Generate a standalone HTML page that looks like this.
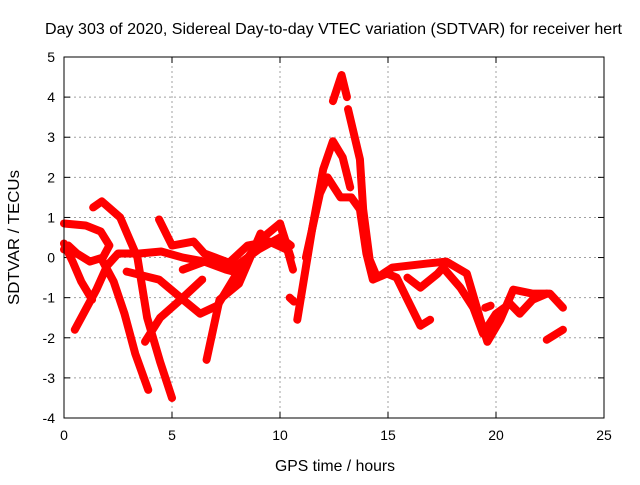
<!DOCTYPE html>
<html><head><meta charset="utf-8"><style>
body{margin:0;background:#fff;}
svg text{font-family:"Liberation Sans",sans-serif;font-size:14px;fill:#000;}
</style></head><body>
<svg id="chart" width="640" height="480" xmlns="http://www.w3.org/2000/svg">
<rect width="640" height="480" fill="#fff"/>
<text x="45" y="34" textLength="577" lengthAdjust="spacingAndGlyphs" style="font-size:16px">Day 303 of 2020, Sidereal Day-to-day VTEC variation (SDTVAR) for receiver hert</text>
<text x="275" y="471" textLength="120" lengthAdjust="spacingAndGlyphs" style="font-size:16px">GPS time / hours</text>
<text transform="translate(19,305) rotate(-90)" textLength="135" lengthAdjust="spacingAndGlyphs" style="font-size:16px">SDTVAR / TECUs</text>
<g id="grid"></g>
<g id="ticks"></g>
<g id="series"></g>
<rect x="64" y="57" width="540" height="361" fill="none" stroke="#000" stroke-width="1"/>
</svg>
<script>
const xTicks=[0,5,10,15,20,25];
const yTicks=[-4,-3,-2,-1,0,1,2,3,4,5];
const track1=[[0,0.85],[1,0.8],[1.7,0.65],[2.1,0.3],[1.8,0],[1.2,-0.1],[0.6,0.1],[0.2,0.3],[0,0.2]];
const track2=[[0.5,-1.8],[1.0,-1.3],[1.5,-0.8],[2.0,-0.2],[2.5,0.1],[3.5,0.1],[4.5,0.15],[5.5,0],[6.5,-0.1],[7.5,-0.3],[8.2,-0.4]];
const track3=[[0,0.35],[0.4,-0.1],[0.8,-0.6],[1.3,-1.05]];
const track4=[[1.35,1.25],[1.75,1.4],[2.6,1.0],[3.4,0.0],[3.85,-1.5],[4.45,-2.6],[5.0,-3.5]];
const track5=[[1.8,-0.1],[2.3,-0.6],[2.8,-1.4],[3.3,-2.4],[3.9,-3.3]];
const track6=[[3.75,-2.1],[4.45,-1.5],[5.4,-1.05],[6.4,-0.55]];
const track7=[[6.6,-2.55],[7.2,-1.05],[8.1,-0.65],[9.1,0.6]];
const track8=[[2.9,-0.35],[4.4,-0.55],[5.4,-1.0],[6.3,-1.4],[7.1,-1.2],[8.0,-0.4],[9.1,0.45],[10.0,0.85],[10.5,0.0]];
const track9=[[4.4,0.95],[5.0,0.3],[5.5,0.35],[6.0,0.4],[6.5,0.1],[7.0,0.0],[8.0,-0.2],[9.0,0.2],[10.0,0.5],[10.5,0.3]];
const track10=[[5.5,-0.3],[6.5,-0.1],[7.5,-0.2],[8.5,0.3],[9.5,0.4],[10.3,0.2]];
const track11=[[10.0,0.85],[10.6,-0.3]];
const track12=[[10.8,-1.55],[11.5,0.75],[12.0,2.2],[12.45,2.9],[12.9,2.5],[13.25,1.75]];
const track13=[[11.2,0],[11.85,1.6],[12.2,2.0],[12.8,1.5],[13.3,1.5],[13.7,1.2],[14.0,0.1],[14.3,-0.55],[14.95,-0.4],[15.4,-0.5],[15.9,-1.05],[16.5,-1.7],[16.95,-1.55]];
const track14=[[12.45,3.9],[12.85,4.55],[13.1,4.0]];
const track15=[[13.15,3.7],[13.7,2.45],[13.85,1.2],[14.15,-0.05],[14.5,-0.5],[15.2,-0.25],[16.8,-0.15],[17.7,-0.1],[18.65,-0.4],[19.25,-1.5],[19.6,-2.1],[20.2,-1.55],[20.8,-0.8],[21.7,-0.9],[22.5,-0.9],[23.1,-1.25]];
const track16=[[15.9,-0.5],[16.5,-0.75],[17.3,-0.4],[17.55,-0.25],[18.35,-0.75],[18.95,-1.25],[19.4,-1.9],[20.0,-1.4],[20.65,-1.15],[21.1,-1.4],[21.7,-1.05],[22.35,-0.9]];
const track17=[[22.35,-2.05],[23.1,-1.8]];
const track18=[[10.45,-1.0],[10.65,-1.1]];
const track19=[[19.5,-1.25],[19.75,-1.2]];
const tracks=[track1,track2,track3,track4,track5,track6,track7,track8,track9,track10,track11,track12,track13,track14,track15,track16,track17,track18,track19];

const X0=64,X1=604,Y0=418,Y1=57;
function sx(t){return X0+(t-0)/(25-0)*(X1-X0);}
function sy(v){return Y0-(v+4)/(5+4)*(Y0-Y1);}
const NS="http://www.w3.org/2000/svg";
const grid=document.getElementById('grid'),ticks=document.getElementById('ticks'),series=document.getElementById('series');
function mk(tag,attrs,parent){const e=document.createElementNS(NS,tag);for(const k in attrs)e.setAttribute(k,attrs[k]);parent.appendChild(e);return e;}
xTicks.forEach(t=>{
  const x=sx(t);
  if(t>0&&t<25){const g=mk('line',{x1:x,y1:Y0,x2:x,y2:Y1,stroke:'#a0a0a0','stroke-dasharray':'2,3'},grid);
  
  }
  mk('line',{x1:x,y1:Y0,x2:x,y2:Y0-6,stroke:'#000'},ticks);
  mk('line',{x1:x,y1:Y1,x2:x,y2:Y1+6,stroke:'#000'},ticks);
  const l=mk('text',{x:x,y:Y0+22,'text-anchor':'middle'},ticks);l.textContent=t;
  
  
});
yTicks.forEach(v=>{
  const y=sy(v);
  if(v>-4&&v<5){const g=mk('line',{x1:X0,y1:y,x2:X1,y2:y,stroke:'#a0a0a0','stroke-dasharray':'2,3'},grid);
  
  }
  mk('line',{x1:X0,y1:y,x2:X0+6,y2:y,stroke:'#000'},ticks);
  mk('line',{x1:X1,y1:y,x2:X1-6,y2:y,stroke:'#000'},ticks);
  const l=mk('text',{x:X0-9,y:y+5,'text-anchor':'end'},ticks);l.textContent=v;
  
  
});
tracks.forEach(tr=>{
  const p=mk('polyline',{points:tr.map(d=>sx(d[0])+','+sy(d[1])).join(' '),fill:'none',stroke:'#ff0000','stroke-width':8,'stroke-linejoin':'round','stroke-linecap':'round'},series);
  
  
});
</script>
</body></html>
